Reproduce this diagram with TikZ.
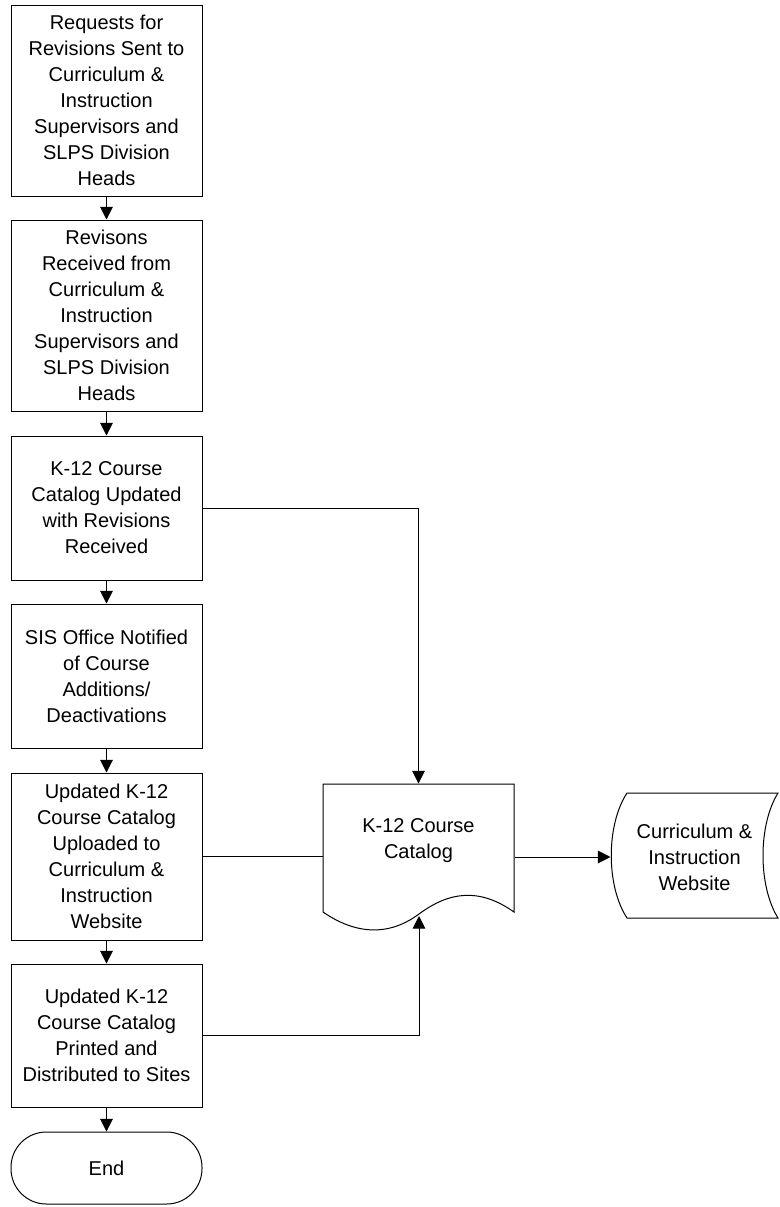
\documentclass[tikz,border=0pt]{standalone}
\usepackage{fontspec}
\setmainfont{Liberation Sans}
\usetikzlibrary{arrows.meta}
\begin{document}
\begin{tikzpicture}[x=0.75pt,y=-0.75pt,line width=0.75pt,
  every node/.style={font=\fontsize{15}{19.5}\selectfont, align=center, inner sep=0pt},
  proc/.style={draw, minimum width=143.25pt},
  arr/.style={-{Triangle[length=9.5pt,width=9.5pt]}}]
\useasboundingbox (0,0) rectangle (780,1207);

\node[proc, minimum height=143.25pt] (b1) at (106.5,100.5) {Requests for\\Revisions Sent to\\Curriculum \&\\Instruction\\Supervisors and\\SLPS Division\\Heads};
\node[proc, minimum height=143.25pt] (b2) at (106.5,315.5) {Revisons\\Received from\\Curriculum \&\\Instruction\\Supervisors and\\SLPS Division\\Heads};
\node[proc, minimum height=108pt] (b3) at (106.5,508) {K-12 Course\\Catalog Updated\\with Revisions\\Received};
\node[proc, minimum height=108pt] (b4) at (106.5,676) {SIS Office Notified\\of Course\\Additions/\\Deactivations};
\node[proc, minimum height=125.25pt] (b5) at (106.5,856.5) {Updated K-12\\Course Catalog\\Uploaded to\\Curriculum \&\\Instruction\\Website};
\node[proc, minimum height=107.25pt] (b6) at (106.5,1035.5) {Updated K-12\\Course Catalog\\Printed and\\Distributed to Sites};
\node[proc, minimum height=54pt, rounded corners=26.5pt] (end) at (106.5,1168) {End};

% document shape
\node[minimum width=143.25pt, minimum height=96pt] (doc) at (418.5,848) {};
\draw (323,784) -- (514,784) -- (514,912)
  .. controls (480,888) and (450,891) .. (419,914)
  .. controls (388,937) and (355,934) .. (323,912) -- cycle;
\node (doctext) at (418.5,841) {K-12 Course\\Catalog};
\coordinate (docwave) at (419,916);

% stored data shape
\node[minimum width=125.25pt, minimum height=93.75pt] (web) at (694.5,857) {Curriculum \&\\Instruction\\Website};
\draw (627,793) -- (778,793) .. controls (758,825) and (758,886) .. (778,918)
  -- (627,918) .. controls (606,886) and (606,825) .. (627,793) -- cycle;

% connectors
\draw[arr] (b1) -- (b2);
\draw[arr] (b2) -- (b3);
\draw[arr] (b3) -- (b4);
\draw[arr] (b4) -- (b5);
\draw[arr] (b5) -- (b6);
\draw[arr] (b6) -- (end);
\draw[arr] (b3.east) -| (doc.north);
\draw (b5.east) -- (b5.east -| doc.west);
\draw[arr] (b6.east) -| (docwave);
\draw[arr] (doc.east |- web.west) -- (web.west);
\end{tikzpicture}
\end{document}
